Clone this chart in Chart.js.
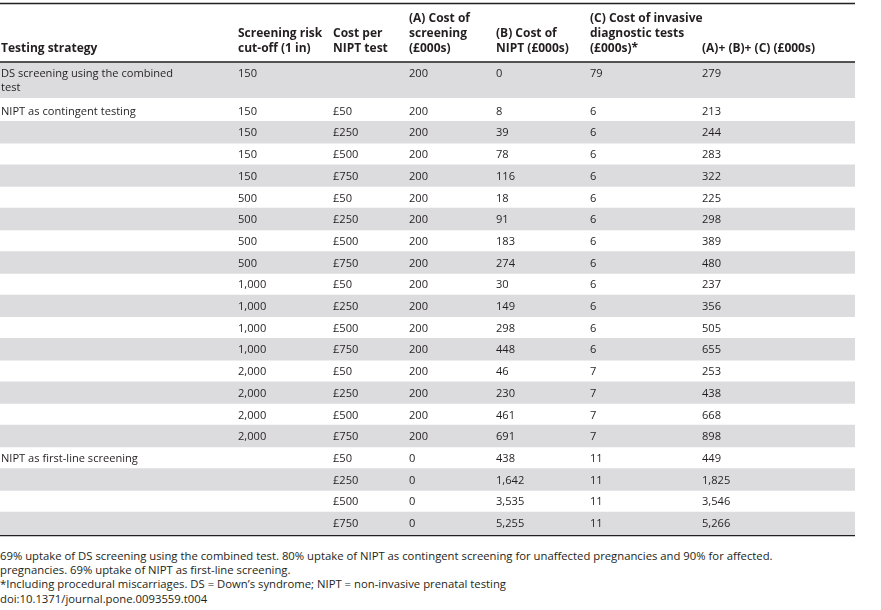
<!DOCTYPE html>
<html>
<head>
<meta charset="utf-8">
<script src="https://cdn.jsdelivr.net/npm/chart.js@4/dist/chart.umd.min.js"></script>
<style>
  html, body { margin: 0; padding: 0; background: #ffffff; }
  body { width: 881px; height: 610px; position: relative; overflow: hidden; font-family: "Open Sans", sans-serif; color: #231f20; }
  #wrap { position: absolute; left: 0; top: 0; width: 855px; height: 540px; }
  .fn { position: absolute; left: 0; font-size: 11.3px; line-height: 14px; white-space: nowrap; color: #231f20; }
</style>
</head>
<body>
<div id="wrap"><canvas id="c"></canvas></div>
<div class="fn" style="top:549px">69% uptake of DS screening using the combined test. 80% uptake of NIPT as contingent screening for unaffected pregnancies and 90% for affected.</div>
<div class="fn" style="top:563px">pregnancies. 69% uptake of NIPT as first-line screening.</div>
<div class="fn" style="top:577px">*Including procedural miscarriages. DS = Down’s syndrome; NIPT = non-invasive prenatal testing</div>
<div class="fn" style="top:592px">doi:10.1371/journal.pone.0093559.t004</div>
<script>
// ---- data ----
const headers = [
  ['Testing strategy'],
  ['Screening risk', 'cut-off (1 in)'],
  ['Cost per', 'NIPT test'],
  ['(A) Cost of', 'screening', '(£000s)'],
  ['(B) Cost of', 'NIPT (£000s)'],
  ['(C) Cost of invasive', 'diagnostic tests', '(£000s)*'],
  ['(A)+ (B)+ (C) (£000s)']
];
const strategies = [
  ['DS screening using the combined', 'test'],
  ['NIPT as contingent testing'], '', '', '', '', '', '', '', '', '', '', '', '', '', '', '',
  ['NIPT as first-line screening'], '', '', ''
];
const cutoffs = [150, 150, 150, 150, 150, 500, 500, 500, 500, 1000, 1000, 1000, 1000, 2000, 2000, 2000, 2000, null, null, null, null];
const niptCost = [null, 50, 250, 500, 750, 50, 250, 500, 750, 50, 250, 500, 750, 50, 250, 500, 750, 50, 250, 500, 750];
const costA = [200, 200, 200, 200, 200, 200, 200, 200, 200, 200, 200, 200, 200, 200, 200, 200, 200, 0, 0, 0, 0];
const costB = [0, 8, 39, 78, 116, 18, 91, 183, 274, 30, 149, 298, 448, 46, 230, 461, 691, 438, 1642, 3535, 5255];
const costC = [79, 6, 6, 6, 6, 6, 6, 6, 6, 6, 6, 6, 6, 7, 7, 7, 7, 11, 11, 11, 11];
const totals = [279, 213, 244, 283, 322, 225, 298, 389, 480, 237, 356, 505, 655, 253, 438, 668, 898, 449, 1825, 3546, 5266];

// ---- layout / style ----
const COL_X = [1, 238, 333, 409, 496, 590, 702];
const LINE_H = 14, ROW_PAD = 7.7, EDGE_PAD = 2, TEXT_SHIFT = 1;
const TOP_RULE = 3.5, HEAD_BOTTOM = 62;
const HEAD_LINE_CENTERS = [19, 33.5, 48.5];
const TEXT = '#231f20', STRIPE = '#dcdcde', RULE = '#231f20';
const FONT = '11.1px "Open Sans"', BOLD = 'bold 12px "Open Sans"';

const fmt = v => (v === null || v === undefined) ? '' : v.toLocaleString('en-US');
const lines = s => Array.isArray(s) ? s : (s ? [s] : []);

// row geometry in y units (pixels of the table)
const nRows = costB.length;
const rows = [];
let yCur = HEAD_BOTTOM;
for (let i = 0; i < nRows; i++) {
  const nl = Math.max(1, lines(strategies[i]).length);
  const extraTop = (i === 1) ? EDGE_PAD : 0;
  const extraBot = (i === nRows - 1) ? EDGE_PAD : 0;
  const h = nl * LINE_H + ROW_PAD + extraTop + extraBot;
  const innerTop = yCur + extraTop;
  rows.push({ top: yCur, bottom: yCur + h, firstLine: innerTop + ROW_PAD / 2 + LINE_H / 2 + TEXT_SHIFT, nl });
  yCur += h;
}
const TABLE_BOTTOM = yCur;

const stripeSets = [];
rows.forEach((r, i) => {
  if (i % 2 === 0) {
    stripeSets.push({
      data: [[r.top, r.bottom]],
      backgroundColor: STRIPE,
      borderWidth: 0,
      grouped: false,
      barPercentage: 1,
      categoryPercentage: 1
    });
  }
});

const tablePlugin = {
  id: 'tableText',
  afterDatasetsDraw(chart) {
    const ctx = chart.ctx;
    const y = chart.scales.y;
    const L = chart.chartArea.left, R = chart.chartArea.right;
    ctx.save();
    // rules
    ctx.strokeStyle = RULE;
    ctx.lineWidth = 1.3;
    [TOP_RULE, HEAD_BOTTOM, TABLE_BOTTOM].forEach(v => {
      const py = y.getPixelForValue(v);
      ctx.beginPath(); ctx.moveTo(L, py); ctx.lineTo(R, py); ctx.stroke();
    });
    ctx.fillStyle = TEXT;
    ctx.textBaseline = 'middle';
    ctx.textAlign = 'left';
    // header (bottom aligned)
    ctx.font = BOLD;
    headers.forEach((h, c) => {
      const off = HEAD_LINE_CENTERS.length - h.length;
      h.forEach((t, k) => ctx.fillText(t, L + COL_X[c], y.getPixelForValue(HEAD_LINE_CENTERS[off + k])));
    });
    // body
    ctx.font = FONT;
    rows.forEach((r, i) => {
      const cells = [
        lines(strategies[i]),
        [fmt(cutoffs[i])],
        [niptCost[i] === null ? '' : '£' + fmt(niptCost[i])],
        [fmt(costA[i])],
        [fmt(costB[i])],
        [fmt(costC[i])],
        [fmt(totals[i])]
      ];
      cells.forEach((cl, c) => {
        cl.forEach((t, k) => {
          if (t) ctx.fillText(t, L + COL_X[c], y.getPixelForValue(r.firstLine + k * LINE_H));
        });
      });
    });
    ctx.restore();
  }
};

new Chart(document.getElementById('c'), {
  type: 'bar',
  data: { labels: ['table'], datasets: stripeSets },
  options: {
    responsive: true,
    maintainAspectRatio: false,
    animation: false,
    layout: { padding: 0 },
    events: [],
    scales: {
      x: { display: false },
      y: { type: 'linear', min: 0, max: 540, reverse: true, display: false }
    },
    plugins: { legend: { display: false }, tooltip: { enabled: false }, title: { display: false } }
  },
  plugins: [tablePlugin]
});
</script>
</body>
</html>
